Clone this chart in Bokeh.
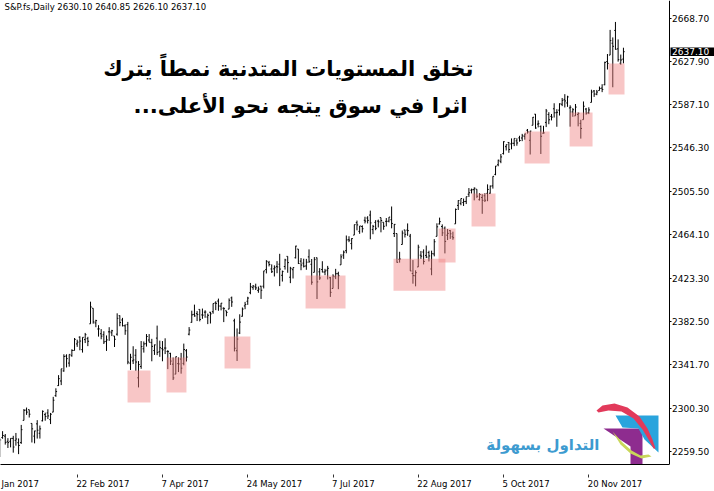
import numpy as np
import pandas as pd
from bokeh.plotting import figure
from bokeh.models import Range1d, FixedTicker, NumeralTickFormatter, Label
from bokeh.embed import file_html
from bokeh.resources import INLINE

# ---------------- texts ----------------
symbol_title = "S&P.fs,Daily  2630.10 2640.85 2626.10 2637.10"
last_price = 2637.10
headline_1 = "تخلق المستويات المتدنية نمطاً يترك"
headline_2 = "اثرا في سوق يتجه نحو الأعلى...\u200f"
brand = "التداول بسهولة"

price_ticks = [2668.70, 2627.90, 2587.10, 2546.30, 2505.50, 2464.10,
               2423.30, 2382.50, 2341.70, 2300.30, 2259.50]
date_tick_days = ["2017-01-09", "2017-02-22", "2017-04-07", "2017-05-24",
                  "2017-07-07", "2017-08-22", "2017-10-05", "2017-11-20"]
date_tick_labels = ["Jan 2017", "22 Feb 2017", "7 Apr 2017", "24 May 2017",
                    "7 Jul 2017", "22 Aug 2017", "5 Oct 2017", "20 Nov 2017"]

# ---------------- daily bars (open, high, low, close) ----------------
bars_jan = [(2240.0, 2244.0, 2238.0, 2242.0), (2251.6, 2263.9, 2245.1, 2257.8), (2261.6, 2272.8, 2261.6, 2270.8),
            (2268.2, 2271.5, 2260.5, 2269.0), (2271.1, 2282.1, 2264.1, 2277.0), (2273.6, 2275.5, 2268.8, 2268.9),
            (2269.0, 2279.3, 2265.3, 2268.9), (2268.6, 2275.3, 2260.8, 2275.3), (2271.1, 2271.8, 2254.3, 2270.4),
            (2272.7, 2278.7, 2271.5, 2274.6), (2274.0, 2276.0, 2266.0, 2268.0), (2269.1, 2272.1, 2262.8, 2267.9),
            (2269.1, 2272.0, 2263.4, 2271.9), (2271.9, 2274.3, 2258.4, 2263.7), (2270.0, 2277.0, 2265.0, 2271.3),
            (2267.8, 2271.8, 2257.0, 2265.2), (2267.9, 2284.6, 2266.7, 2280.1), (2288.9, 2299.6, 2288.9, 2298.4),
            (2298.6, 2301.0, 2294.1, 2296.7), (2299.0, 2299.0, 2291.6, 2294.7), (2286.0, 2286.0, 2268.0, 2280.9),
            (2274.0, 2279.1, 2267.2, 2278.9)]
bars_feb = [(2285.6, 2289.1, 2271.7, 2279.6), (2276.7, 2284.0, 2271.7, 2280.9), (2288.5, 2298.3, 2287.9, 2297.4),
            (2294.3, 2296.2, 2288.6, 2292.6), (2295.9, 2299.4, 2290.2, 2293.1), (2289.6, 2295.9, 2285.4, 2294.7),
            (2296.7, 2311.1, 2296.6, 2307.9), (2312.3, 2319.2, 2311.1, 2316.1), (2321.7, 2331.6, 2321.4, 2328.3),
            (2326.1, 2337.6, 2322.2, 2337.6), (2335.6, 2351.3, 2334.8, 2349.3), (2349.6, 2351.3, 2338.9, 2347.2),
            (2343.0, 2351.2, 2339.6, 2351.2), (2350.0, 2356.0, 2349.0, 2355.0), (2354.9, 2366.7, 2354.9, 2365.4),
            (2361.1, 2365.1, 2358.3, 2362.8), (2367.5, 2368.3, 2355.1, 2363.8), (2355.7, 2367.3, 2352.9, 2367.3),
            (2365.2, 2371.5, 2361.9, 2369.8), (2366.1, 2367.8, 2359.0, 2363.6)]
bars_mar = [(2380.1, 2401.0, 2380.1, 2396.0), (2394.8, 2394.8, 2380.2, 2381.9), (2380.9, 2383.9, 2376.9, 2383.1),
            (2375.2, 2378.8, 2368.0, 2375.3), (2370.7, 2375.1, 2365.5, 2368.4), (2369.8, 2373.1, 2361.0, 2363.0),
            (2363.5, 2369.1, 2354.5, 2364.9), (2372.5, 2376.9, 2364.0, 2372.6), (2371.6, 2374.4, 2368.5, 2373.5),
            (2368.6, 2368.6, 2358.2, 2365.5), (2370.3, 2390.0, 2368.9, 2385.3), (2387.7, 2388.1, 2377.8, 2381.4),
            (2383.7, 2385.7, 2377.6, 2378.3), (2378.2, 2379.6, 2369.7, 2373.5), (2379.3, 2381.9, 2341.9, 2344.0),
            (2343.0, 2351.8, 2336.5, 2348.5), (2345.1, 2358.9, 2342.1, 2346.0), (2350.4, 2356.2, 2335.7, 2344.0),
            (2329.1, 2344.9, 2320.0, 2341.6), (2339.8, 2363.8, 2337.6, 2358.6), (2356.5, 2363.4, 2352.9, 2361.1),
            (2361.3, 2370.4, 2358.6, 2368.1), (2364.8, 2370.4, 2362.6, 2362.7)]
bars_apr = [(2362.3, 2365.9, 2344.7, 2358.8), (2354.8, 2360.5, 2350.7, 2360.2), (2366.6, 2378.4, 2350.5, 2353.0),
            (2353.8, 2364.2, 2348.9, 2357.5), (2356.6, 2363.8, 2344.7, 2355.5), (2357.2, 2366.4, 2351.5, 2357.2),
            (2353.9, 2355.2, 2337.3, 2353.8), (2352.2, 2352.7, 2341.2, 2344.9), (2342.0, 2348.3, 2327.0, 2329.0),
            (2332.6, 2349.1, 2332.5, 2349.0), (2342.5, 2348.4, 2334.5, 2342.2), (2346.8, 2352.6, 2333.0, 2338.2),
            (2342.7, 2361.4, 2340.9, 2355.8), (2354.7, 2356.2, 2344.5, 2348.7), (2370.3, 2377.0, 2369.2, 2374.2),
            (2381.5, 2392.5, 2381.2, 2388.6), (2389.0, 2398.2, 2386.8, 2387.5), (2389.7, 2392.1, 2382.7, 2388.8),
            (2393.7, 2393.7, 2382.4, 2384.2)]
bars_may = [(2388.5, 2394.5, 2384.8, 2388.3), (2391.1, 2392.9, 2385.8, 2391.2), (2386.5, 2389.8, 2379.8, 2388.1),
            (2391.0, 2391.4, 2380.4, 2389.5), (2391.5, 2399.3, 2389.6, 2399.3), (2399.9, 2401.4, 2393.0, 2399.4),
            (2401.6, 2403.9, 2392.4, 2396.9), (2396.8, 2399.7, 2392.8, 2399.6), (2394.8, 2395.7, 2381.7, 2394.4),
            (2392.4, 2392.4, 2387.2, 2390.9), (2394.0, 2404.1, 2393.9, 2402.3), (2404.6, 2405.8, 2396.1, 2400.7),
            (2382.9, 2384.9, 2354.0, 2357.0), (2354.7, 2375.7, 2345.0, 2365.7), (2371.4, 2389.1, 2370.4, 2381.7),
            (2387.2, 2395.5, 2386.9, 2394.0), (2397.0, 2400.8, 2393.9, 2398.4), (2401.4, 2405.6, 2398.0, 2404.4),
            (2409.5, 2418.7, 2408.0, 2415.1), (2414.5, 2416.7, 2412.2, 2415.8), (2415.0, 2418.0, 2412.0, 2414.0),
            (2411.7, 2415.3, 2409.4, 2412.9), (2415.6, 2416.0, 2403.6, 2411.8)]
bars_jun = [(2415.6, 2430.1, 2413.5, 2430.1), (2431.3, 2440.2, 2427.7, 2439.1), (2437.8, 2439.5, 2434.3, 2436.1),
            (2431.9, 2436.2, 2428.1, 2429.3), (2432.0, 2435.3, 2424.8, 2433.1), (2434.3, 2439.3, 2427.9, 2433.8),
            (2436.4, 2446.2, 2415.7, 2431.8), (2425.9, 2430.4, 2420.0, 2429.4), (2434.2, 2441.5, 2431.3, 2440.4),
            (2443.8, 2443.8, 2428.3, 2437.9), (2424.1, 2433.9, 2418.5, 2432.5), (2431.2, 2433.2, 2422.9, 2433.2),
            (2442.5, 2453.8, 2441.8, 2453.5), (2450.7, 2450.7, 2436.6, 2437.0), (2439.3, 2442.2, 2430.7, 2435.6),
            (2437.4, 2441.6, 2433.3, 2434.5), (2434.7, 2441.4, 2431.1, 2438.3), (2443.3, 2450.4, 2437.6, 2439.1),
            (2436.3, 2441.3, 2417.0, 2419.4), (2428.7, 2443.1, 2428.7, 2440.7), (2442.4, 2442.7, 2403.5, 2419.7),
            (2429.2, 2432.7, 2421.6, 2423.4)]
bars_jul = [(2431.4, 2439.2, 2428.7, 2429.0), (2429.0, 2432.0, 2426.0, 2430.0), (2430.8, 2434.8, 2422.0, 2432.5),
            (2423.6, 2424.3, 2405.5, 2409.8), (2413.5, 2426.9, 2413.5, 2425.2), (2424.5, 2432.0, 2422.3, 2427.4),
            (2427.4, 2429.3, 2412.8, 2425.5), (2435.8, 2445.8, 2435.8, 2443.3), (2445.0, 2449.3, 2441.4, 2447.8),
            (2449.2, 2463.5, 2446.7, 2459.3), (2459.5, 2462.8, 2457.2, 2459.1), (2455.9, 2460.9, 2450.3, 2460.6),
            (2463.9, 2473.8, 2463.9, 2473.8), (2475.6, 2477.6, 2468.4, 2473.5), (2467.4, 2472.5, 2465.1, 2472.5),
            (2472.0, 2473.1, 2466.3, 2469.9), (2477.9, 2481.2, 2474.9, 2477.1), (2480.0, 2481.7, 2474.9, 2477.8),
            (2482.8, 2487.0, 2459.9, 2475.4), (2469.1, 2473.5, 2464.7, 2472.1), (2475.9, 2478.0, 2468.5, 2470.3)]
bars_aug = [(2477.1, 2478.5, 2471.1, 2476.4), (2480.4, 2480.4, 2466.5, 2477.6), (2476.0, 2476.0, 2468.9, 2472.2),
            (2476.9, 2480.0, 2472.1, 2476.8), (2477.1, 2480.9, 2475.9, 2480.9), (2478.4, 2490.9, 2470.3, 2474.9),
            (2465.4, 2474.4, 2462.1, 2474.0), (2465.4, 2465.4, 2437.8, 2438.2), (2441.0, 2448.1, 2437.9, 2441.3),
            (2455.0, 2468.2, 2455.0, 2465.8), (2468.7, 2468.9, 2461.6, 2464.6), (2468.6, 2474.9, 2463.2, 2468.1),
            (2462.9, 2465.0, 2430.0, 2430.0), (2427.6, 2440.3, 2418.0, 2425.6), (2425.5, 2430.6, 2415.5, 2428.4),
            (2433.8, 2454.8, 2433.7, 2452.5), (2444.9, 2448.9, 2441.4, 2444.0), (2447.9, 2450.4, 2436.2, 2439.0),
            (2444.7, 2454.0, 2442.2, 2443.1), (2447.4, 2449.1, 2439.0, 2444.2), (2431.9, 2449.2, 2426.0, 2446.3),
            (2446.1, 2460.1, 2443.8, 2457.6), (2462.7, 2475.0, 2462.7, 2471.7)]
bars_sep = [(2474.4, 2480.4, 2473.9, 2476.6), (2472.0, 2474.0, 2463.0, 2466.0), (2470.4, 2472.0, 2446.6, 2457.9),
            (2463.8, 2469.6, 2459.2, 2465.5), (2468.1, 2468.6, 2460.3, 2465.1), (2462.3, 2467.1, 2459.4, 2461.4),
            (2474.5, 2489.0, 2474.5, 2488.1), (2491.9, 2496.8, 2487.6, 2496.5), (2493.9, 2498.4, 2492.1, 2498.4),
            (2494.6, 2498.4, 2491.4, 2495.6), (2495.7, 2500.2, 2493.2, 2500.2), (2502.5, 2508.3, 2499.9, 2503.9),
            (2506.3, 2507.8, 2503.2, 2506.7), (2506.8, 2508.9, 2496.7, 2508.2), (2507.2, 2507.2, 2499.0, 2500.6),
            (2497.3, 2503.5, 2496.5, 2502.2), (2499.4, 2502.5, 2484.0, 2496.7), (2501.0, 2503.5, 2495.1, 2496.8),
            (2503.3, 2511.8, 2495.9, 2507.0), (2503.4, 2510.8, 2502.9, 2510.1), (2510.4, 2519.4, 2507.8, 2519.4)]
bars_oct = [(2521.2, 2529.2, 2520.4, 2529.1), (2530.3, 2535.1, 2528.9, 2534.6), (2533.5, 2540.5, 2531.8, 2537.7),
            (2540.9, 2552.5, 2540.0, 2552.1), (2547.4, 2549.4, 2543.8, 2549.3), (2551.4, 2551.8, 2541.6, 2544.7),
            (2550.0, 2555.2, 2544.9, 2550.6), (2550.6, 2555.2, 2547.9, 2555.2), (2552.9, 2555.3, 2548.3, 2550.9),
            (2555.7, 2557.7, 2552.1, 2553.2), (2555.6, 2559.5, 2552.6, 2557.6), (2557.2, 2559.7, 2554.0, 2559.4),
            (2562.9, 2564.1, 2559.7, 2561.3), (2553.4, 2562.4, 2540.0, 2562.1), (2567.6, 2575.4, 2567.6, 2575.2),
            (2578.1, 2578.3, 2564.3, 2565.0), (2568.7, 2572.2, 2565.6, 2569.1), (2566.5, 2567.4, 2540.5, 2557.2),
            (2560.1, 2567.1, 2559.8, 2560.4), (2570.3, 2583.0, 2565.9, 2581.1), (2577.8, 2580.0, 2568.6, 2572.8),
            (2576.0, 2578.3, 2572.2, 2575.3)]
bars_nov = [(2583.2, 2588.4, 2574.9, 2579.4), (2579.5, 2582.8, 2566.2, 2579.9), (2581.9, 2588.4, 2576.8, 2587.8),
            (2587.5, 2593.4, 2585.7, 2591.1), (2592.1, 2597.0, 2584.4, 2590.6), (2588.7, 2595.5, 2585.0, 2594.4),
            (2584.0, 2586.5, 2566.3, 2584.6), (2580.2, 2583.8, 2575.6, 2582.3), (2576.5, 2587.7, 2576.5, 2584.8),
            (2577.8, 2579.7, 2566.6, 2578.9), (2569.4, 2572.8, 2555.0, 2564.6), (2572.9, 2590.1, 2572.9, 2585.6),
            (2582.9, 2584.0, 2577.6, 2578.9), (2579.5, 2584.6, 2578.2, 2582.1), (2589.2, 2601.2, 2589.2, 2599.0),
            (2600.0, 2600.9, 2594.4, 2597.1), (2597.0, 2601.0, 2596.0, 2599.0), (2600.4, 2604.2, 2600.4, 2602.4),
            (2602.7, 2606.4, 2598.9, 2601.4), (2605.9, 2627.7, 2605.4, 2627.0), (2627.8, 2634.9, 2620.3, 2626.1),
            (2633.9, 2657.7, 2633.9, 2647.6)]
bars_dec = [(2645.1, 2650.6, 2603.5, 2642.2), (2657.2, 2665.2, 2639.0, 2639.4), (2639.8, 2648.7, 2627.7, 2629.6),
            (2626.2, 2634.4, 2624.8, 2629.3), (2630.1, 2640.85, 2626.1, 2637.1)]

# ---------------- highlighted zones (bar index span, price span) ----------------
zone_first_bar = [55.9, 70.5, 92.3, 122.7, 155.7, 172.6, 185.0, 204.9, 221.8, 236.4]
zone_last_bar = [64.5, 78.0, 102.0, 137.7, 175.2, 179.0, 194.0, 214.3, 230.4, 242.4]
zone_top = [2336.0, 2348.2, 2368.1, 2425.7, 2441.6, 2470.1, 2503.1, 2561.7, 2579.6, 2626.0]
zone_bottom = [2305.8, 2315.1, 2337.9, 2394.5, 2411.4, 2438.0, 2471.9, 2531.5, 2547.5, 2596.7]

# ---------------- assemble ----------------
dates = pd.bdate_range("2017-01-02", "2017-12-07").drop(pd.Timestamp("2017-04-14"))
ohlc = np.array(bars_jan + bars_feb + bars_mar + bars_apr + bars_may + bars_jun +
                bars_jul + bars_aug + bars_sep + bars_oct + bars_nov + bars_dec)
assert len(ohlc) == len(dates)
idx = np.arange(len(dates))
opens, highs, lows, closes = ohlc[:, 0], ohlc[:, 1], ohlc[:, 2], ohlc[:, 3]
date_tick_idx = [int(dates.get_loc(pd.Timestamp(d))) for d in date_tick_days]

# view (MT4 scale): ~2.665 px per bar, ~0.9445 points per px; canvas pixel (0,0) = chart corner
PX_PER_BAR = 2.6646
PTS_PER_PX = 0.9445
FRAME_W, FRAME_H = 714, 464
X_START = 8.215
X_END = X_START + FRAME_W / PX_PER_BAR
Y_TOP = 2685.46
Y_BOTTOM = Y_TOP - FRAME_H * PTS_PER_PX
SCALE_PX = 668.5          # where the MT4 price scale starts
DATE_FONT_PX = 8.5


def dx(px):
    return X_START + px / PX_PER_BAR


def dy(py):
    return Y_TOP - py * PTS_PER_PX


# approximate DejaVu Sans advance widths (em) to left-align the MT4 date labels at their ticks
_adv = {" ": 0.318, "J": 0.295, "a": 0.613, "n": 0.634, "F": 0.575, "e": 0.615, "b": 0.635,
        "A": 0.684, "p": 0.635, "r": 0.411, "M": 0.863, "y": 0.592, "u": 0.634, "l": 0.278,
        "g": 0.635, "O": 0.787, "c": 0.550, "t": 0.392, "N": 0.748, "o": 0.612, "v": 0.592}


def text_w(s):
    return sum(_adv.get(ch, 0.636) for ch in s) * DATE_FONT_PX


label_centers = []
for i, lab in zip(date_tick_idx, date_tick_labels):
    left_px = max((i - X_START) * PX_PER_BAR - 1, 1)
    label_centers.append(round(X_START + (left_px + text_w(lab) / 2) / PX_PER_BAR, 3))
visible_tick_idx = [i for i in date_tick_idx if i > X_START]

p = figure(frame_width=FRAME_W, frame_height=FRAME_H,
           x_range=Range1d(X_START, X_END), y_range=Range1d(Y_BOTTOM, Y_TOP),
           y_axis_location="right", toolbar_location=None, output_backend="svg",
           min_border_left=0, min_border_top=0, min_border_right=0, min_border_bottom=26,
           background_fill_color="white", border_fill_color="white", outline_line_color=None)
p.xgrid.visible = False
p.ygrid.visible = False

ya = p.yaxis[0]
ya.fixed_location = dx(SCALE_PX)
ya.ticker = FixedTicker(ticks=price_ticks)
ya.formatter = NumeralTickFormatter(format="0.00")
ya.major_tick_out = 2
ya.major_tick_in = 0
ya.minor_tick_line_color = None
ya.axis_line_color = "black"
ya.major_tick_line_color = "black"
ya.major_label_standoff = 1
ya.major_label_text_font = "DejaVu Sans"
ya.major_label_text_font_size = "9px"
ya.major_label_text_color = "black"

xa = p.xaxis[0]
xa.bounds = (X_START, dx(SCALE_PX))
xa.ticker = FixedTicker(ticks=label_centers, minor_ticks=visible_tick_idx)
xa.major_label_overrides = {c: lab for c, lab in zip(label_centers, date_tick_labels)}
xa.major_tick_out = 0
xa.major_tick_in = 0
xa.minor_tick_in = -10
xa.minor_tick_out = 13
xa.minor_tick_line_color = "#333333"
xa.axis_line_color = "black"
xa.major_label_standoff = 1
xa.major_label_text_font = "DejaVu Sans"
xa.major_label_text_font_size = "%spx" % DATE_FONT_PX
xa.major_label_text_color = "black"

# OHLC bars
p.segment(x0=idx, y0=lows, x1=idx, y1=highs, line_color="black", line_width=1)
p.segment(x0=idx - 0.45, y0=opens, x1=idx, y1=opens, line_color="black", line_width=1)
p.segment(x0=idx, y0=closes, x1=idx + 0.45, y1=closes, line_color="black", line_width=1)

# highlighted zones
p.quad(left=zone_first_bar, right=zone_last_bar, top=zone_top, bottom=zone_bottom,
       fill_color="#f08080", fill_alpha=0.45, line_color=None)

# brand logo (decoration)
logo_shapes = [
    ("#8e2c8f", [(603, 428), (642, 428), (642, 464), (630, 464), (630, 446)]),
    ("#2aa4dd", [(615, 415), (658, 415), (658, 452), (644, 439), (638, 428), (622, 427)]),
    ("#c9d75a", [(612, 431), (620, 444), (630, 453), (641, 458), (651, 456),
                 (648, 454), (640, 455), (631, 450), (622, 442)]),
    ("#e23a5b", [(596, 410), (602, 405), (614, 403), (627, 407), (639, 416), (647, 428), (652, 439),
                 (655, 448), (653, 448), (648, 439), (642, 429), (633, 418), (621, 411), (608, 410),
                 (598, 412)]),
]
p.patches(xs=[[dx(a) for a, b in pts] for c, pts in logo_shapes],
          ys=[[dy(b) for a, b in pts] for c, pts in logo_shapes],
          fill_color=[c for c, pts in logo_shapes], line_color=None)

# current price marker on the price scale
half_tag = 4.3 * PTS_PER_PX
p.quad(left=[dx(SCALE_PX + 1.5)], right=[X_END], top=[last_price + half_tag],
       bottom=[last_price - half_tag], fill_color="black", line_color=None, level="annotation")
p.add_layout(Label(x=dx(SCALE_PX + 3), y=last_price, text="%.2f" % last_price,
                   text_align="left", text_baseline="middle",
                   text_font="DejaVu Sans", text_font_size="9px", text_color="white"))

# title
p.add_layout(Label(x=dx(4), y=Y_TOP, y_offset=-1, text=symbol_title,
                   text_align="left", text_baseline="top",
                   text_font="DejaVu Sans", text_font_size="8.5px", text_color="black"))

# headline
p.add_layout(Label(x=dx(473), y=dy(68), text=headline_1, text_align="right", text_baseline="middle",
                   text_font="DejaVu Sans", text_font_style="bold", text_font_size="21.2px",
                   text_color="black"))
p.add_layout(Label(x=dx(467), y=dy(104.5), text=headline_2, text_align="right", text_baseline="middle",
                   text_font="DejaVu Sans", text_font_style="bold", text_font_size="21.2px",
                   text_color="black"))

# brand text
p.add_layout(Label(x=dx(599), y=dy(444.5), text=brand, text_align="right", text_baseline="middle",
                   text_font="DejaVu Sans", text_font_style="bold", text_font_size="15px",
                   text_color="#3d9bd0"))

open("out.html", "w").write(file_html(p, INLINE))
